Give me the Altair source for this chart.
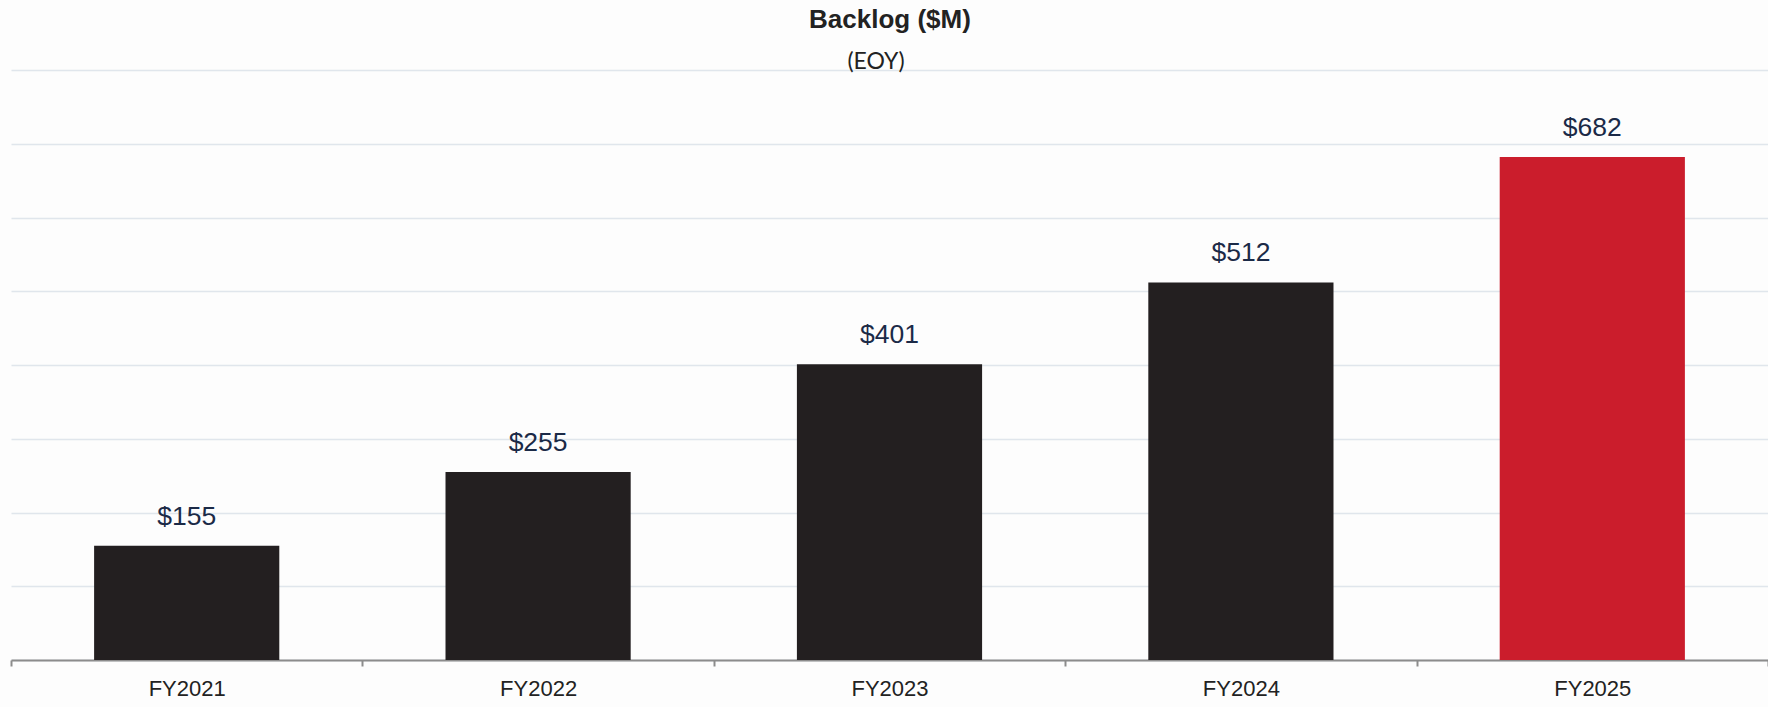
import altair as alt
import pandas as pd

years = ["FY2021", "FY2022", "FY2023", "FY2024", "FY2025"]
backlog = [155, 255, 401, 512, 682]
labels = ["$155", "$255", "$401", "$512", "$682"]
bar_colors = ["#231f20", "#231f20", "#231f20", "#231f20", "#cb1d2c"]
y_ticks = [0, 100, 200, 300, 400, 500, 600, 700, 800]

df = pd.DataFrame({"year": years, "value": backlog, "label": labels, "color": bar_colors})

y = alt.Y("value:Q", title=None,
          scale=alt.Scale(domain=[0, 800], nice=False),
          axis=alt.Axis(values=y_ticks, labels=False, ticks=False, domain=False,
                        grid=True, gridColor="#e0e6ec", gridWidth=1.3))

x_bar = alt.X("year:N", sort=years, title=None,
              scale=alt.Scale(paddingInner=0.473, paddingOuter=0.2365), axis=None)

base = alt.Chart(df)
bars = base.mark_bar().encode(
    x=x_bar, y=y,
    color=alt.Color("color:N", scale=None, legend=None),
)
text = base.mark_text(dy=-21, baseline="alphabetic", font="Liberation Sans",
                      fontSize=26.5, color="#1b2a47").encode(
    x=x_bar, y="value:Q", text="label:N")
bar_layer = alt.layer(bars, text)

axis_layer = base.mark_point(opacity=0).encode(
    x=alt.X("year:N", sort=years, title=None,
            scale=alt.Scale(paddingInner=0, paddingOuter=0),
            axis=alt.Axis(labelAngle=0, labelFont="Liberation Sans", labelFontSize=22,
                          labelColor="#222222", labelBaseline="alphabetic", labelPadding=29,
                          tickSize=6, tickWidth=2, tickColor="#8c8c8c", tickBand="extent",
                          domainColor="#8c8c8c", domainWidth=2, grid=False)),
    y="value:Q",
)

title = alt.Chart(pd.DataFrame({"t": ["Backlog ($M)"]})).mark_text(
    font="Liberation Sans", fontSize=26, fontWeight="bold", color="#222222",
    baseline="alphabetic", align="center").encode(
    x=alt.value(879), y=alt.value(-42), text="t:N")
subtitle = alt.Chart(pd.DataFrame({"t": ["(EOY)"]})).mark_text(
    font="Lato", fontSize=23, color="#222222",
    baseline="alphabetic", align="center").encode(
    x=alt.value(865), y=alt.value(-1), text="t:N")

chart = alt.layer(bar_layer, axis_layer, title, subtitle).resolve_scale(
    x="independent"
).properties(
    width=1757, height=590,
    autosize=alt.AutoSizeParams(type="none"),
    padding={"left": 11, "top": 70, "right": 0, "bottom": 47},
    background="#fdfdfd",
).configure_view(stroke=None)

chart.save("out.html", embed_options={"renderer": "svg", "actions": False})
